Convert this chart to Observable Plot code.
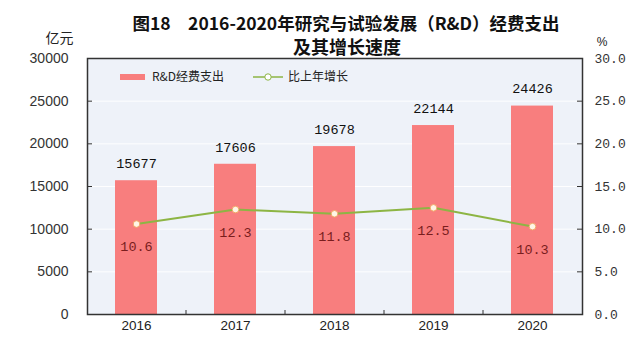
<!DOCTYPE html>
<html>
<head>
<meta charset="utf-8">
<script src="https://cdn.jsdelivr.net/npm/d3@7"></script>
<script src="https://cdn.jsdelivr.net/npm/@observablehq/plot@0.6"></script>
<style>
  html, body { margin: 0; padding: 0; background: #ffffff; }
</style>
</head>
<body>
<div id="chart"></div>
<script>
const years = ["2016", "2017", "2018", "2019", "2020"];
const spending = [15677, 17606, 19678, 22144, 24426];
const growth = [10.6, 12.3, 11.8, 12.5, 10.3];
const leftTicks = [0, 5000, 10000, 15000, 20000, 25000, 30000];
const rightTicks = [0, 5, 10, 15, 20, 25, 30];
const titleLines = ["图18　2016-2020年研究与试验发展（R&D）经费支出", "及其增长速度"];
const leftUnit = "亿元";
const rightUnit = "%";
const legendLabels = ["R&D经费支出", "比上年增长"];

const ratio = 30000 / 30; // secondary axis mapping
const data = years.map((y, i) => ({year: y, value: spending[i], pct: growth[i]}));

const W = 640, H = 352, ML = 87, MR = 58, MT = 58, MB = 38;
const PW = W - ML - MR, PH = H - MT - MB;
const step = PW / years.length;

const barColor = "#f87e7e";
const lineColor = "#8db544";
const mono = "'Liberation Mono', 'DejaVu Sans Mono', monospace";
const sans = "'Liberation Sans', Arial, sans-serif";
const cjk = "'Noto Sans CJK SC', sans-serif";

function legend(index, scales, values, dims) {
  const g = d3.create("svg:g");
  const x0 = dims.marginLeft, y0 = dims.marginTop;
  g.append("rect").attr("x", x0 + 33).attr("y", y0 + 16).attr("width", 25).attr("height", 6).attr("fill", barColor);
  g.append("text").attr("x", x0 + 65).attr("y", y0 + 19).attr("dy", "0.35em").attr("text-anchor", "start")
    .attr("font-family", cjk).attr("font-size", 12).attr("fill", "#222").text(legendLabels[0]);
  g.append("line").attr("x1", x0 + 166).attr("x2", x0 + 196).attr("y1", y0 + 19).attr("y2", y0 + 19)
    .attr("stroke", lineColor).attr("stroke-width", 1.5);
  g.append("circle").attr("cx", x0 + 181).attr("cy", y0 + 19).attr("r", 3.2)
    .attr("fill", "white").attr("stroke", lineColor).attr("stroke-width", 1);
  g.append("text").attr("x", x0 + 201).attr("y", y0 + 19).attr("dy", "0.35em").attr("text-anchor", "start")
    .attr("font-family", cjk).attr("font-size", 12).attr("fill", "#222").text(legendLabels[1]);
  return g.node();
}

const chart = Plot.plot({
  width: W, height: H,
  marginLeft: ML, marginRight: MR, marginTop: MT, marginBottom: MB,
  x: {domain: years, paddingInner: 0.575, paddingOuter: 0.2875, axis: null, label: null},
  y: {domain: [0, 30000], axis: null, label: null},
  style: {background: "white", color: "#222", fontFamily: sans},
  marks: [
    Plot.frame({fill: "#eef2f9", stroke: null}),
    Plot.ruleY(leftTicks.slice(1, -1), {stroke: "white", strokeWidth: 1, strokeOpacity: 0.9}),
    Plot.barY(data, {x: "year", y: "value", fill: barColor}),
    Plot.text(data, {x: "year", y: "value", text: d => String(d.value), dy: -17, fontFamily: mono, fontSize: 13.5, fill: "#111"}),
    Plot.line(data, {x: "year", y: d => d.pct * ratio, stroke: lineColor, strokeWidth: 2}),
    Plot.dot(data, {x: "year", y: d => d.pct * ratio, r: 3.3, fill: "#fff6e6", stroke: "#f2a868", strokeWidth: 1}),
    Plot.text(data, {x: "year", y: d => d.pct * ratio, text: d => d.pct.toFixed(1), dy: 23, fontFamily: mono, fontSize: 13.5, fill: "#7a1d1d"}),
    // axis ticks pointing inward
    Plot.ruleY(leftTicks, {stroke: "#333", insetRight: PW - 5}),
    Plot.ruleY(leftTicks, {stroke: "#333", insetLeft: PW - 5}),
    Plot.ruleX(years.slice(1), {x: d => d, dx: -step / 2, stroke: "#333", insetTop: PH - 4}),
    Plot.axisY(leftTicks, {anchor: "left", label: null, tickSize: 0, tickPadding: 19, tickFormat: d => String(d), fontSize: 14, fontFamily: sans, fill: "#333"}),
    Plot.axisY(rightTicks.map(d => d * ratio), {anchor: "right", label: null, tickSize: 0, tickPadding: 12, tickFormat: d => (d / ratio).toFixed(1), fontSize: 13, fontFamily: mono, fill: "#333"}),
    Plot.axisX({label: null, tickSize: 0, tickPadding: 6, fontSize: 13.5, fontFamily: sans, fill: "#222"}),
    Plot.frame({stroke: "#333", strokeWidth: 1.5}),
    legend,
    Plot.text([titleLines[0]], {frameAnchor: "top", dx: 11, dy: -41, fontFamily: cjk, fontSize: 17.5, fontWeight: "bold", fill: "#111"}),
    Plot.text([titleLines[1]], {frameAnchor: "top", dx: 12, dy: -17, fontFamily: cjk, fontSize: 18, fontWeight: "bold", fill: "#111"}),
    Plot.text([leftUnit], {frameAnchor: "top-left", dx: -42, dy: -25, fontFamily: cjk, fontSize: 14, fill: "#222"}),
    Plot.text([rightUnit], {frameAnchor: "top-right", dx: 25, dy: -21, fontFamily: sans, fontSize: 12, fill: "#222"})
  ]
});
document.getElementById("chart").appendChild(chart);
</script>
</body>
</html>
